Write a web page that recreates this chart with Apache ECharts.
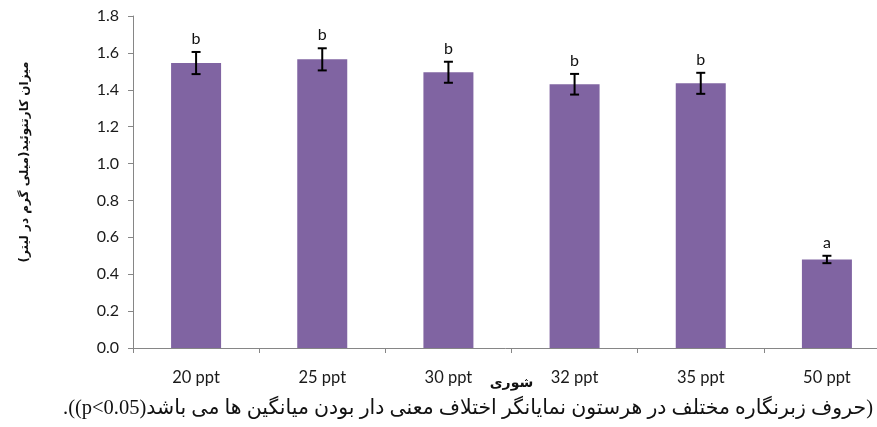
<!DOCTYPE html>
<html>
<head>
<meta charset="utf-8">
<script src="https://cdn.jsdelivr.net/npm/echarts@6/dist/echarts.min.js"></script>
<style>
  html, body { margin: 0; padding: 0; background: #fff; }
  #chart { width: 877px; height: 427px; }
</style>
</head>
<body>
<div id="chart"></div>
<script>
// Salinity treatments and carotenoid content (mg/L), mean ± error
const categories = ['20 ppt', '25 ppt', '30 ppt', '32 ppt', '35 ppt', '50 ppt'];
const carotenoid = [1.545, 1.565, 1.495, 1.43, 1.435, 0.48];
const errors = [0.06, 0.06, 0.057, 0.056, 0.057, 0.02];
const groupLetters = ['b', 'b', 'b', 'b', 'b', 'a'];

const yMin = 0;
const yMax = 1.8;
const yStep = 0.2;

// Arabic-script strings wrapped in RTL embedding so they lay out right-to-left
const RLE = '\u202B', PDF = '\u202C';
const yTitle = RLE + 'میزان کارتنوئید(میلی گرم در لیتر)' + PDF;
const xTitle = RLE + 'شوری' + PDF;
const footnote = RLE + '(حروف زبرنگاره مختلف در هرستون نمایانگر اختلاف معنی دار بودن میانگین ها می باشد(p<0.05)).' + PDF;

const chart = echarts.init(document.getElementById('chart'), null, { renderer: 'canvas' });

const axisGray = '#868686';
const labelFont = 'Lato, "Open Sans", sans-serif';

chart.setOption({
  animation: false,
  backgroundColor: '#ffffff',
  grid: { left: 133, top: 16, bottom: 79, width: 757, outerBoundsMode: 'none', containLabel: false },
  xAxis: {
    type: 'category',
    data: categories,
    name: xTitle,
    nameLocation: 'middle',
    nameGap: 28,
    nameMoveOverlap: false,
    nameTextStyle: { fontSize: 14, fontWeight: 'bold', color: '#111', fontFamily: '"DejaVu Sans", sans-serif' },
    axisLine: { lineStyle: { color: axisGray, width: 1 } },
    axisTick: { show: true, alignWithLabel: false, length: 5, lineStyle: { color: axisGray } },
    axisLabel: { margin: 21, fontSize: 16.5, color: '#1a1a1a', fontFamily: labelFont }
  },
  yAxis: {
    type: 'value',
    min: yMin,
    max: yMax,
    interval: yStep,
    axisLine: { show: true, lineStyle: { color: axisGray, width: 1 } },
    axisTick: { show: true, length: 5, lineStyle: { color: axisGray } },
    splitLine: { show: false },
    axisLabel: {
      margin: 14,
      fontSize: 16,
      color: '#1a1a1a',
      fontFamily: labelFont,
      formatter: v => v.toFixed(1)
    }
  },
  graphic: [
    {
      type: 'text',
      x: 25,
      y: 162,
      rotation: Math.PI / 2,
      style: {
        text: yTitle,
        font: 'bold 12px "DejaVu Sans", sans-serif',
        fill: '#111',
        align: 'center',
        verticalAlign: 'middle'
      }
    },
    {
      type: 'text',
      x: 63,
      y: 409,
      style: {
        text: footnote,
        font: '20.5px "Liberation Serif", "DejaVu Sans", serif',
        fill: '#111',
        align: 'left',
        verticalAlign: 'middle'
      }
    }
  ],
  series: [
    {
      type: 'bar',
      data: carotenoid,
      barWidth: 50,
      itemStyle: { color: '#8064A2' },
      z: 2
    },
    {
      type: 'custom',
      z: 5,
      data: carotenoid.map((v, i) => [i, v, errors[i]]),
      renderItem: (params, api) => {
        const idx = api.value(0);
        const mean = api.value(1);
        const err = api.value(2);
        const letter = groupLetters[params.dataIndex];
        const top = api.coord([idx, mean + err]);
        const bottom = api.coord([idx, mean - err]);
        const cap = 4.5;
        const lineStyle = { stroke: '#000', lineWidth: 2 };
        return {
          type: 'group',
          children: [
            { type: 'line', shape: { x1: top[0], y1: top[1], x2: bottom[0], y2: bottom[1] }, style: lineStyle },
            { type: 'line', shape: { x1: top[0] - cap, y1: top[1], x2: top[0] + cap, y2: top[1] }, style: lineStyle },
            { type: 'line', shape: { x1: bottom[0] - cap, y1: bottom[1], x2: bottom[0] + cap, y2: bottom[1] }, style: lineStyle },
            {
              type: 'text',
              x: top[0],
              y: top[1] - 5,
              style: {
                text: letter,
                font: '16px ' + labelFont,
                fill: '#111',
                align: 'center',
                verticalAlign: 'bottom'
              }
            }
          ]
        };
      }
    }
  ]
});
</script>
</body>
</html>
